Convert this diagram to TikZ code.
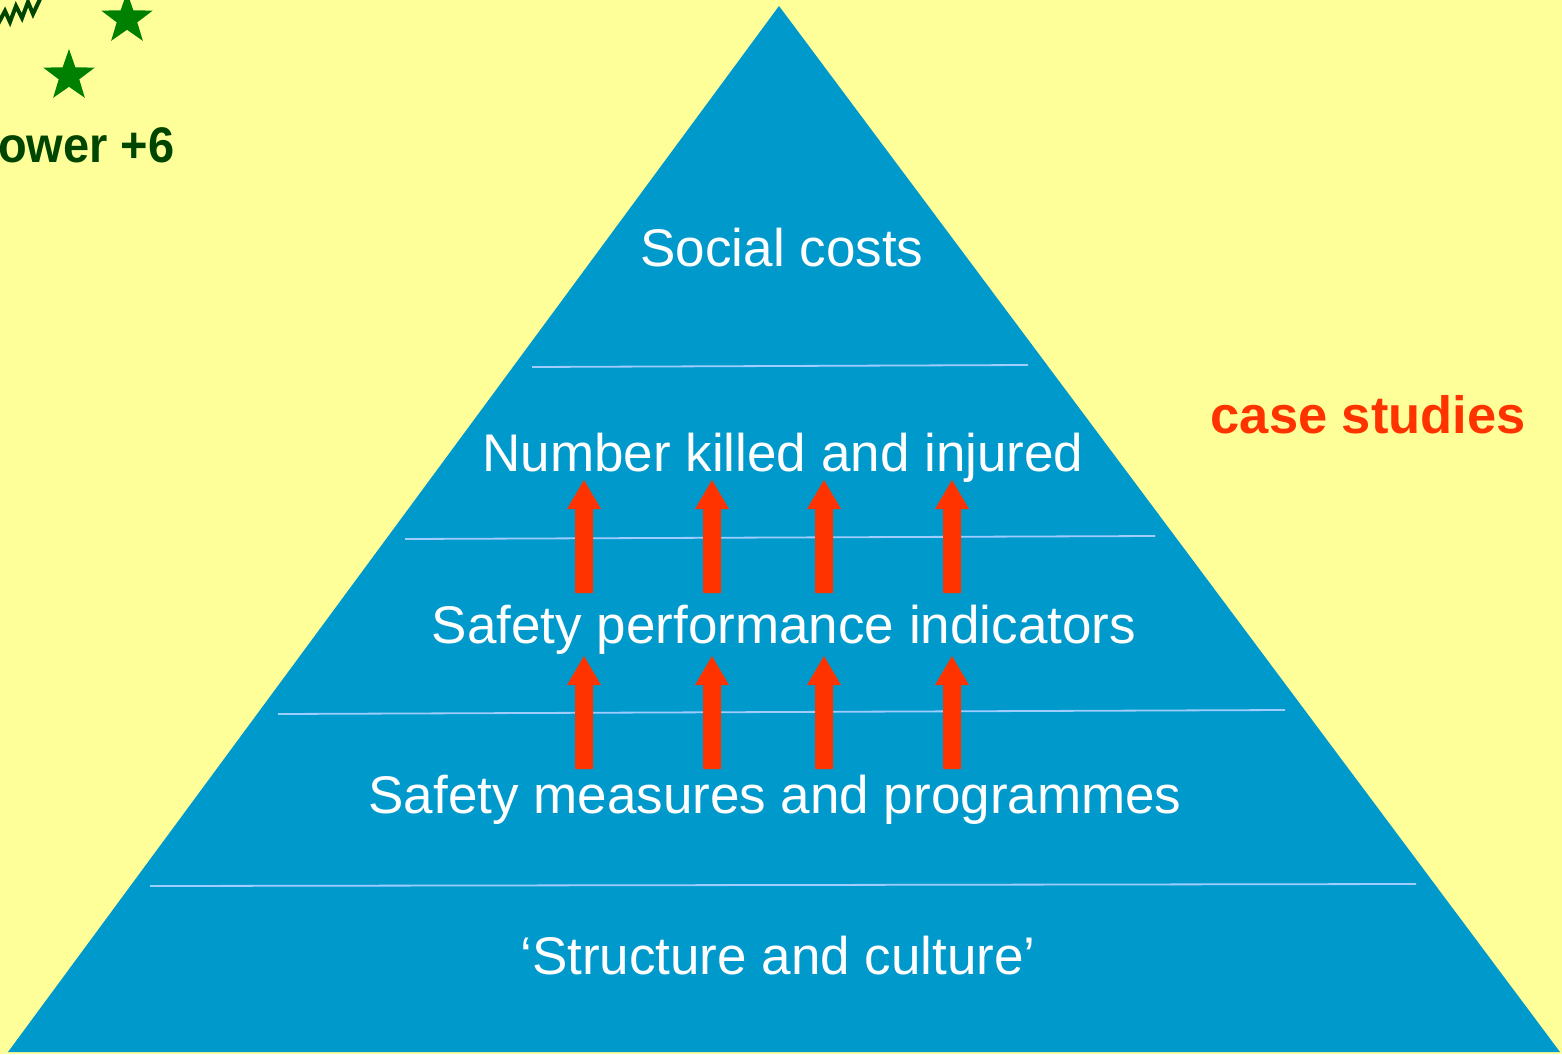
\documentclass[tikz,border=0pt]{standalone}
\usepackage{fontspec}
\setmainfont{Liberation Sans}
\usetikzlibrary{shapes.geometric}
\definecolor{bgyellow}{RGB}{255,255,153}
\definecolor{pyrblue}{RGB}{0,153,204}
\definecolor{tierline}{RGB}{160,205,255}
\definecolor{arrowred}{RGB}{255,51,0}
\definecolor{stargreen}{RGB}{0,128,0}
\definecolor{textgreen}{RGB}{0,70,0}
\tikzset{
  tier/.style={text=white, inner sep=0pt, font=\fontsize{53}{60}\selectfont},
  tierline/.style={draw=tierline, line width=1.8pt},
  badge/.style={star, star points=5, star point ratio=2.5, fill=stargreen, inner sep=0pt, minimum size=54pt}
}
\def\blockarrow(#1,#2){\fill[arrowred] (#1-9,#2+113) -- (#1-9,#2+29) -- (#1-17,#2+29) -- (#1,#2) -- (#1+17,#2+29) -- (#1+9,#2+29) -- (#1+9,#2+113) -- cycle;}

\begin{document}
\begin{tikzpicture}[x=1pt, y=-1pt]
	\useasboundingbox (0,0) rectangle (1562,1054);
	\fill[bgyellow] (0,0) rectangle (1562,1054);
	
	% corner clipart
	\draw[textgreen, line width=4pt, line join=miter] (-2,24) -- (5,11) -- (10,22) -- (16,6) -- (22,18) -- (28,2) -- (33,14) -- (41,-3);
	\node[badge] (starone) at (127,19) {};
	\node[badge] (startwo) at (69,76) {};
	\node[anchor=base west, inner sep=0pt, text=textgreen, xscale=0.94, font=\bfseries\fontsize{50}{56}\selectfont] (power) at (-2,162) {ower +6};
	
	% pyramid
	\fill[pyrblue] (779,6) -- (1560,1052) -- (8,1052) -- cycle;
	\draw[tierline] (532,367) -- (1028,365);
	\draw[tierline] (405,539) -- (1155,536);
	\draw[tierline] (278,714) -- (1285,710);
	\draw[tierline] (150,886) -- (1416,884);
	
	\node[tier] (social) at (782,248) {Social costs};
	\node[tier] (killed) at (783,458) {Number killed and injured};
	\node[tier] (spi) at (784,630) {Safety performance indicators};
	\node[tier] (measures) at (775,800) {Safety measures and programmes};
	\node[tier] (structure) at (778,956) {‘Structure and culture’};
	
	\foreach \ax in {584,712,824,952} {
		\blockarrow(\ax,480)
		\blockarrow(\ax,656)
	}
	
	\node[anchor=east, inner sep=0pt, text=arrowred, font=\bfseries\fontsize{52.5}{60}\selectfont] (cases) at (1526,415) {case studies};
\end{tikzpicture}
\end{document}
